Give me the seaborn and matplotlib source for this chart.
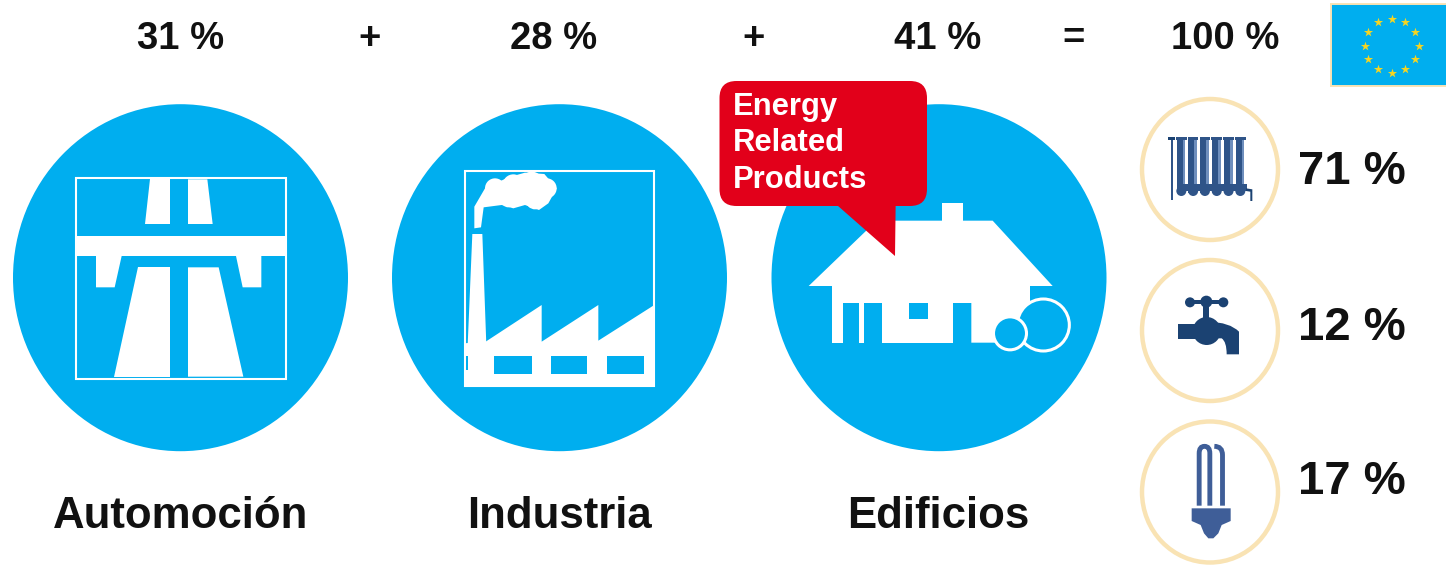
import numpy as np
import pandas as pd
import matplotlib
matplotlib.use("Agg")
import matplotlib.pyplot as plt
from matplotlib.patches import Ellipse, Polygon, Rectangle, FancyBboxPatch, PathPatch, Circle
from matplotlib.path import Path
import seaborn as sns

# Shares of energy use per sector and the split inside buildings
sectors = ["Automoción", "Industria", "Edificios"]
sector_shares = [31, 28, 41]
total_share = 100
building_shares = [71, 12, 17]
callout_lines = ["Energy", "Related", "Products"]

BLUE = "#00AEEF"
RED = "#E2001A"
RING = "#F9E3B4"
NAVY = "#1B4272"
STEEL = "#2F5488"
LIGHT = "#6F8FBD"
MID = "#3F5E98"
GOLD = "#F7D520"
INK = "#111111"

sns.set_theme(style="white")
plt.rcParams["font.family"] = ["Liberation Sans", "DejaVu Sans"]
plt.rcParams["font.weight"] = "bold"

fig = plt.figure(figsize=(14.46, 5.66), dpi=100, facecolor="white")
ax = fig.add_axes([0, 0, 1, 1])
ax.set_xlim(0, 1446)
ax.set_ylim(566, 0)
ax.axis("off")


def poly(points, ox, oy, color="white", z=3):
    """Filled polygon given in 3x icon units relative to an icon origin."""
    pts = [(ox + x / 3, oy + y / 3) for x, y in points]
    ax.add_patch(Polygon(pts, closed=True, fc=color, ec="none", zorder=z))


def box(x0, y0, x1, y1, ox, oy, color="white", z=3):
    poly([(x0, y0), (x1, y0), (x1, y1), (x0, y1)], ox, oy, color, z)


def disc(cx, cy, r, ox, oy, color="white", z=3):
    ax.add_patch(Ellipse((ox + cx / 3, oy + cy / 3), 2 * r / 3, 2 * r / 3, fc=color, ec="none", zorder=z))


def curve(verts, codes, ox, oy, **style):
    pts = [(ox + x / 3, oy + y / 3) for x, y in verts]
    ax.add_patch(PathPatch(Path(pts, codes), **style))


# Sector discs
for cx in (180.5, 559.5, 939):
    ax.add_patch(Ellipse((cx, 277.7), 335, 347, fc=BLUE, ec="none", zorder=1))

# Motorway icon
ox, oy = 0, 90
ax.add_patch(Rectangle((75.5, 178), 210, 200.5, fc="none", ec="white", lw=1.5, zorder=3))
poly([(450, 268), (510, 268), (510, 402), (434, 402)], ox, oy)
poly([(564, 268), (622, 268), (638, 402), (564, 402)], ox, oy)
box(228, 438, 858, 498, ox, oy)
poly([(288, 498), (288, 592), (344, 592), (365, 498)], ox, oy)
poly([(708, 498), (728, 592), (784, 592), (784, 498)], ox, oy)
poly([(415, 532), (510, 532), (510, 860), (342, 860)], ox, oy)
poly([(564, 532), (656, 532), (730, 860), (564, 860)], ox, oy)

# Factory icon
ox, oy = 385, 90
ax.add_patch(Rectangle((465, 170.5), 189, 215, fc="none", ec="white", lw=1.5, zorder=3))
poly([(237, 760), (302, 755), (470, 645), (470, 755), (640, 645), (640, 752), (808, 645),
      (808, 888), (237, 888)], ox, oy)
poly([(262, 432), (292, 432), (304, 765), (248, 765)], ox, oy)
poly([(268, 415), (268, 350), (300, 295), (370, 262), (420, 248), (478, 252), (515, 295),
      (490, 340), (462, 360), (420, 345), (385, 355), (350, 345), (296, 352), (288, 412)], ox, oy)
for cx, cy, r in [(330, 295, 30), (385, 285, 32), (440, 280, 35), (485, 295, 30), (450, 330, 28), (370, 330, 22)]:
    disc(cx, cy, r, ox, oy)
box(328, 798, 440, 852, ox, oy, BLUE, 4)
box(497, 798, 606, 852, ox, oy, BLUE, 4)
box(666, 798, 776, 852, ox, oy, BLUE, 4)
box(244, 798, 248, 840, ox, oy, BLUE, 4)

# House icon with callout
ox, oy = 710, 70
box(695, 398, 760, 470, ox, oy)
poly([(296, 648), (500, 452), (848, 452), (1028, 648)], ox, oy)
box(365, 640, 960, 698, ox, oy)
box(367, 690, 400, 818, ox, oy)
box(447, 690, 462, 818, ox, oy)
box(516, 690, 728, 818, ox, oy)
poly([(784, 690), (960, 690), (960, 745), (870, 818), (784, 818)], ox, oy)
box(598, 698, 654, 748, ox, oy, BLUE, 4)
ax.add_patch(Circle((ox + 1000 / 3, oy + 765 / 3), 26, fc=BLUE, ec="white", lw=2.2, zorder=4))
ax.add_patch(Circle((ox + 900 / 3, oy + 790 / 3), 16.5, fc=BLUE, ec="white", lw=2.2, zorder=5))

ax.add_patch(FancyBboxPatch((734.5, 96), 177.5, 95, boxstyle="round,pad=15,rounding_size=17", fc=RED, ec="none",
                            zorder=6))
poly([(375, 400), (555, 558), (557, 400)], ox, oy, RED, 6)
for line, y in zip(callout_lines, (106.5, 143, 180)):
    ax.text(733, y, line, color="white", fontsize=22.3, ha="left", va="center", zorder=7)

# Headline equation
for share, x in zip(sector_shares, (181, 554, 938)):
    ax.text(x, 39, f"{share} %", color=INK, fontsize=27.5, ha="center", va="center")
for sign, x in zip(("+", "+", "="), (370, 754, 1074)):
    ax.text(x, 39, sign, color=INK, fontsize=27.5, ha="center", va="center")
ax.text(1225, 39, f"{total_share} %", color=INK, fontsize=27.5, ha="center", va="center")

# Sector names
for name, x in zip(sectors, (181, 559, 938)):
    ax.text(x, 517, name, color=INK, fontsize=31.5, ha="center", va="center")

# Flag with its ring of stars
ax.add_patch(Rectangle((1331, 4), 120, 82, fc=BLUE, ec=RING, lw=1.4, zorder=2))
angles = np.deg2rad(np.arange(0, 360, 30))
stars = pd.DataFrame({"x": 1391.7 + 27 * np.cos(angles), "y": 45.5 + 27 * np.sin(angles)})
sns.scatterplot(data=stars, x="x", y="y", marker="*", s=48, color=GOLD, linewidth=0, ax=ax, zorder=3, legend=False)
ax.set_xlim(0, 1446)
ax.set_ylim(566, 0)
ax.axis("off")

# Building end-use rings and shares
for cy, share, ty in zip((169.5, 330.5, 492), building_shares, (172, 328, 482)):
    ax.add_patch(Ellipse((1210, cy), 136, 141, fc="white", ec=RING, lw=3.2, zorder=2))
    ax.text(1352, ty, f"{share} %", color=INK, fontsize=34, ha="center", va="center")

# Radiator
ox, oy = 1160, 125
for x in 50 + 35.4 * np.arange(6):
    box(x, 37, x + 18, 205, ox, oy, STEEL)
    box(x + 18, 40, x + 26, 200, ox, oy, LIGHT)
    disc(x + 14, 198, 15, ox, oy, STEEL)
    box(x - 2, 37, x + 30, 45, ox, oy, STEEL)
box(50, 178, 262, 198, ox, oy, STEEL)
box(33, 35, 39, 226, ox, oy, STEEL, 4)
box(25, 35, 46, 45, ox, oy, NAVY, 4)
poly([(258, 190), (277, 193), (277, 228), (271, 228), (271, 200), (258, 198)], ox, oy, NAVY, 4)

# Tap
ox, oy = 1165, 285
box(70, 45, 180, 58, ox, oy, NAVY)
disc(75, 52, 15, ox, oy, NAVY)
disc(124, 50, 18, ox, oy, NAVY)
disc(175, 52, 15, ox, oy, NAVY)
box(115, 60, 132, 100, ox, oy, NAVY)
disc(125, 138, 42, ox, oy, NAVY)
box(38, 118, 110, 162, ox, oy, NAVY)
curve([(130, 110), (195, 112), (222, 140), (222, 208), (185, 208), (185, 170), (170, 160), (130, 160), (130, 110)],
      [Path.MOVETO, Path.CURVE3, Path.CURVE3, Path.LINETO, Path.LINETO, Path.CURVE3, Path.CURVE3, Path.LINETO,
       Path.CLOSEPOLY], ox, oy, fc=NAVY, ec="none", zorder=3)

# Compact fluorescent lamp
ox, oy = 1180, 435
tube = dict(fc="none", ec=MID, lw=3.5, capstyle="butt", zorder=3)
curve([(57.5, 212), (57.5, 55), (57.5, 34), (73.5, 34), (89.5, 34), (89.5, 55), (89.5, 212)],
      [Path.MOVETO, Path.LINETO, Path.CURVE3, Path.CURVE3, Path.CURVE3, Path.CURVE3, Path.LINETO], ox, oy, **tube)
curve([(103, 34), (127.5, 34), (127.5, 60), (127.5, 212)],
      [Path.MOVETO, Path.CURVE3, Path.CURVE3, Path.LINETO], ox, oy, **tube)
poly([(35, 220), (152, 220), (152, 258), (125, 270), (115, 295), (100, 310), (85, 310), (72, 295), (62, 270),
      (35, 258)], ox, oy, MID)

fig.savefig("out.png", dpi=100, facecolor="white")
